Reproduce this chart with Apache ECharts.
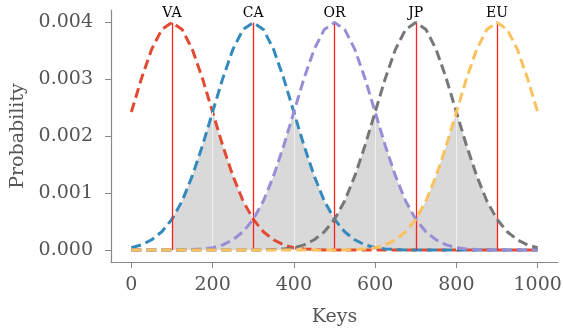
<!DOCTYPE html>
<html>
<head>
<meta charset="utf-8">
<script src="https://cdn.jsdelivr.net/npm/echarts@6/dist/echarts.min.js"></script>
<style>
  html, body { margin: 0; padding: 0; background: #fff; }
  #chart { width: 563px; height: 330px; }
</style>
</head>
<body>
<div id="chart"></div>
<script>
// keys sampled every 25
const keys = [0, 25, 50, 75, 100, 125, 150, 175, 200, 225, 250, 275, 300, 325, 350, 375, 400, 425, 450, 475,
  500, 525, 550, 575, 600, 625, 650, 675, 700, 725, 750, 775, 800, 825, 850, 875, 900, 925, 950, 975, 1000]

// probability
const va = [0.00242, 0.00301, 0.00352, 0.00387, 0.00399, 0.00387, 0.00352, 0.00301, 0.00242, 0.00183, 0.00130,
  0.00086, 0.00054, 0.00032, 0.00018, 0.00009, 0.00004, 0.00002, 0.00001, 0, 0, 0, 0, 0, 0, 0, 0, 0, 0, 0, 0,
  0, 0, 0, 0, 0, 0, 0, 0, 0, 0]
const ca = [0.00004, 0.00009, 0.00018, 0.00032, 0.00054, 0.00086, 0.00130, 0.00183, 0.00242, 0.00301, 0.00352,
  0.00387, 0.00399, 0.00387, 0.00352, 0.00301, 0.00242, 0.00183, 0.00130, 0.00086, 0.00054, 0.00032, 0.00018,
  0.00009, 0.00004, 0.00002, 0.00001, 0, 0, 0, 0, 0, 0, 0, 0, 0, 0, 0, 0, 0, 0]
const or = [0, 0, 0, 0, 0, 0, 0.00001, 0.00002, 0.00004, 0.00009, 0.00018, 0.00032, 0.00054, 0.00086, 0.00130,
  0.00183, 0.00242, 0.00301, 0.00352, 0.00387, 0.00399, 0.00387, 0.00352, 0.00301, 0.00242, 0.00183, 0.00130,
  0.00086, 0.00054, 0.00032, 0.00018, 0.00009, 0.00004, 0.00002, 0.00001, 0, 0, 0, 0, 0, 0]
const jp = [0, 0, 0, 0, 0, 0, 0, 0, 0, 0, 0, 0, 0, 0, 0.00001, 0.00002, 0.00004, 0.00009, 0.00018, 0.00032,
  0.00054, 0.00086, 0.00130, 0.00183, 0.00242, 0.00301, 0.00352, 0.00387, 0.00399, 0.00387, 0.00352, 0.00301,
  0.00242, 0.00183, 0.00130, 0.00086, 0.00054, 0.00032, 0.00018, 0.00009, 0.00004]
const eu = [0, 0, 0, 0, 0, 0, 0, 0, 0, 0, 0, 0, 0, 0, 0, 0, 0, 0, 0, 0, 0, 0, 0.00001, 0.00002, 0.00004, 0.00009,
  0.00018, 0.00032, 0.00054, 0.00086, 0.00130, 0.00183, 0.00242, 0.00301, 0.00352, 0.00387, 0.00399, 0.00387,
  0.00352, 0.00301, 0.00242]

const names = ["VA", "CA", "OR", "JP", "EU"]
const centers = [100, 300, 500, 700, 900]
const xTicks = [0, 200, 400, 600, 800, 1000]
const yTicks = [0, 0.001, 0.002, 0.003, 0.004]

const curves = [va, ca, or, jp, eu]
const colors = ["#E24A33", "#348ABD", "#988ED5", "#777777", "#FBC15E"]
const font = "DejaVu Serif"
const red = "#ff2020"

// gray overlap area between neighbouring centres
const fillData = []
const splitLines = []
keys.forEach((k, i) => {
  if (k < centers[0] || k > centers[centers.length - 1]) return
  const seg = Math.min(Math.floor((k - centers[0]) / 200), centers.length - 2)
  const v = Math.min(curves[seg][i], curves[seg + 1][i])
  fillData.push([k, v])
  if ((k - centers[0]) % 200 === 100) {
    splitLines.push([{ coord: [k, 0] }, { coord: [k, v] }])
  }
})

const centerLines = centers.map((c, j) => {
  const i = keys.indexOf(c)
  return [
    { coord: [c, 0], name: names[j], lineStyle: { color: red, width: 1.3, type: "solid" } },
    { coord: [c, curves[j][i]] }
  ]
})

const chart = echarts.init(document.getElementById("chart"))

const series = [
  {
    type: "line",
    data: fillData,
    showSymbol: false,
    lineStyle: { width: 0 },
    areaStyle: { color: "#d9d9d9", opacity: 1 },
    z: 1,
    markLine: {
      silent: true,
      symbol: ["none", "none"],
      animation: false,
      lineStyle: { color: "#f0f0f0", width: 1, type: "solid" },
      label: { show: false },
      data: splitLines
    }
  }
]

curves.forEach((vals, j) => {
  series.push({
    name: names[j],
    type: "line",
    data: keys.map((k, i) => [k, vals[i]]),
    showSymbol: false,
    z: 3 + j,
    lineStyle: { color: colors[j], width: 3, type: [10, 5] }
  })
})

series.push({
  type: "line",
  data: [],
  z: 20,
  markLine: {
    silent: true,
    symbol: ["none", "none"],
    animation: false,
    lineStyle: { color: red, width: 1.3, type: "solid" },
    label: {
      show: true,
      position: "end",
      formatter: "{b}",
      color: "#000",
      fontFamily: font,
      fontSize: 14,
      distance: 2
    },
    data: centerLines
  }
})

chart.setOption({
  animation: false,
  backgroundColor: "#fff",
  grid: { left: 111, right: 5, top: 10, bottom: 68, outerBoundsMode: "none", containLabel: false },
  xAxis: {
    type: "value",
    min: -50,
    max: 1050,
    name: "Keys",
    nameLocation: "middle",
    nameGap: 46,
    nameTextStyle: { fontFamily: font, fontSize: 19, color: "#555" },
    axisLine: { show: true, onZero: false, lineStyle: { color: "#888", width: 1.2 } },
    axisTick: { show: true, length: 6, customValues: xTicks, lineStyle: { color: "#888" } },
    axisLabel: {
      customValues: xTicks,
      margin: 14,
      fontFamily: font,
      fontSize: 19,
      color: "#555",
      formatter: v => String(v)
    },
    splitLine: { show: false }
  },
  yAxis: {
    type: "value",
    min: -0.00021,
    max: 0.00421,
    name: "Probability",
    nameLocation: "middle",
    nameGap: 83,
    nameTextStyle: { fontFamily: font, fontSize: 19, color: "#555" },
    axisLine: { show: true, onZero: false, lineStyle: { color: "#888", width: 1.2 } },
    axisTick: { show: true, length: 6, customValues: yTicks, lineStyle: { color: "#888" } },
    axisLabel: {
      customValues: yTicks,
      margin: 18,
      fontFamily: font,
      fontSize: 19,
      color: "#555",
      formatter: v => v.toFixed(3)
    },
    splitLine: { show: false }
  },
  series
})
</script>
</body>
</html>
